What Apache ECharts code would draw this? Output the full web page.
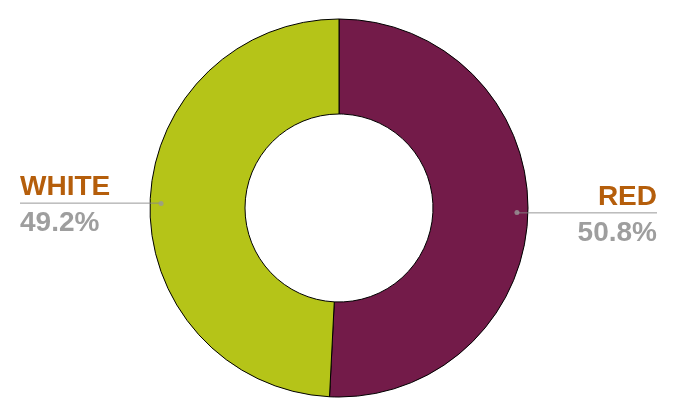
<!DOCTYPE html>
<html><head><meta charset="utf-8">
<script src="https://cdn.jsdelivr.net/npm/echarts@6/dist/echarts.min.js"></script>
<style>html,body{margin:0;padding:0;background:#fff}#c{width:677px;height:419px}</style>
</head><body><div id="c"></div>
<script>
const categories = ['RED', 'WHITE'];
const shares = [50.8, 49.2];
const colors = ['#731B49', '#B5C418'];

const font = 'Liberation Sans, Arial, sans-serif';
function rich(align) {
  return {
    n: { fontFamily: font, fontWeight: 'bold', fontSize: 28, color: '#B55E0B', lineHeight: 36, padding: [4, 0, 0, 0], align: align },
    hr: { width: 140, height: 0, borderColor: '#888', borderWidth: 0.5, align: align },
    v: { fontFamily: font, fontWeight: 'bold', fontSize: 28, color: '#9E9E9E', lineHeight: 36, padding: [4, 0, 0, 0], align: align }
  };
}

// mid-angle positions (in share units) of each slice, for the small anchor dots
const total = shares.reduce((a, b) => a + b, 0);
let acc = 0;
const mids = shares.map(s => { const m = acc + s / 2; acc += s; return m; });

const chart = echarts.init(document.getElementById('c'));
chart.setOption({
  animation: false,
  polar: { center: [339, 208], radius: 189 },
  angleAxis: { type: 'value', min: 0, max: total, startAngle: 90, clockwise: true, show: false },
  radiusAxis: { type: 'value', min: 0, max: 189, show: false },
  series: [{
    type: 'pie',
    center: [339, 208],
    radius: [94, 189],
    startAngle: 90,
    clockwise: true,
    silent: true,
    itemStyle: { borderColor: '#000', borderWidth: 1 },
    label: { show: false },
    labelLine: { show: false },
    data: categories.map((c, i) => ({ name: c, value: shares[i], itemStyle: { color: colors[i] } }))
  }, {
    type: 'pie',
    center: [339, 208],
    radius: [94, 178],
    startAngle: 90,
    clockwise: true,
    silent: true,
    avoidLabelOverlap: false,
    itemStyle: { color: 'rgba(0,0,0,0)' },
    label: {
      position: 'outside',
      alignTo: 'edge',
      edgeDistance: 20,
      formatter: p => '{n|' + p.name + '}\n{hr|}\n{v|' + p.value.toFixed(1) + '%}'
    },
    labelLine: { show: false },
    data: categories.map((c, i) => ({
      name: c, value: shares[i],
      label: { rich: rich(i === 0 ? 'right' : 'left') }
    }))
  }, {
    type: 'scatter',
    coordinateSystem: 'polar',
    silent: true,
    symbolSize: 5,
    itemStyle: { color: '#999' },
    data: mids.map(m => [178, m])
  }]
});
</script></body></html>
